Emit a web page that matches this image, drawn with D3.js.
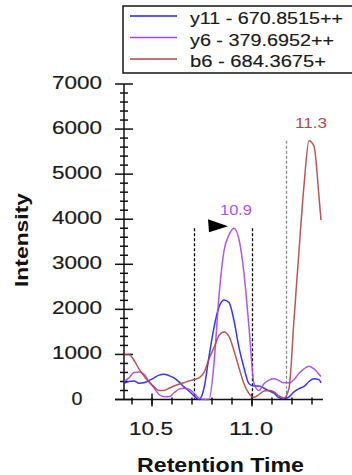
<!DOCTYPE html>
<html>
<head>
<meta charset="utf-8">
<script src="https://cdn.jsdelivr.net/npm/d3@7"></script>
<style>
  body { margin: 0; background: #fff; }
  svg { display: block; font-family: "Liberation Sans", Arial, sans-serif; }
</style>
</head>
<body>
<svg id="chart" width="352" height="475"></svg>
<script>
// retention times (min) of the sampled points
var times = [10.36, 10.385, 10.41, 10.435, 10.46, 10.485, 10.51, 10.535, 10.56, 10.585,
             10.61, 10.635, 10.66, 10.685, 10.71, 10.735, 10.76, 10.785, 10.81, 10.835,
             10.86, 10.885, 10.91, 10.935, 10.96, 10.985, 11.01, 11.035, 11.06, 11.085,
             11.11, 11.135, 11.16, 11.185, 11.21, 11.235, 11.26, 11.285, 11.31, 11.335, 11.345];

var y11 = [360, 400, 410, 360, 370, 420, 480, 540, 560, 530, 480, 390, 280, 190, 80, 0, 250,
           950, 1600, 2050, 2210, 2150, 1750, 1150, 700, 350, 300, 300, 250, 190, 140, 40, 20,
           60, 170, 240, 290, 400, 460, 440, 370];
var y6  = [400, 480, 600, 610, 560, 400, 260, 110, 60, 60, 150, 230, 250, 230, 140, 30, 0,
           0, 800, 2300, 3300, 3650, 3800, 3550, 2800, 1600, 350, 200, 350, 430, 460, 420, 370,
           370, 440, 580, 680, 740, 680, 560, 510];
var b6  = [990, 1000, 870, 680, 520, 390, 280, 200, 200, 250, 300, 340, 370, 410, 440, 480, 600,
           900, 1150, 1420, 1500, 1400, 1080, 700, 350, 130, 50, 110, 190, 200, 170, 80, 30,
           250, 1770, 3300, 4750, 5740, 5620, 4500, 3980];

var seriesNames  = ["y11 - 670.8515++", "y6 - 379.6952++", "b6 - 684.3675+"];
var seriesColors = ["#1f1fff", "#a346f0", "#b24444"];

var yTickValues = [0, 1000, 2000, 3000, 4000, 5000, 6000, 7000];
var xTickValues = [10.5, 11.0];
var xTickLabels = ["10.5", "11.0"];

// integration boundaries and peak apex labels
var boundaries = [10.71, 11.0];
var otherBoundary = 11.17;
var peakLabels = [
  { text: "10.9", series: 1 },
  { text: "11.3", series: 2 }
];

var svg = d3.select("#chart");

var x = d3.scaleLinear().domain([10.36, 11.375]).range([124, 327]);
var y = d3.scaleLinear().domain([0, 7000]).range([399.5, 84]);

var allSeries = [y11, y6, b6];

// ---- axes ----
var axis = svg.append("g").attr("stroke", "#111").attr("stroke-width", 1.5);

axis.append("line")
    .attr("x1", x(10.36)).attr("x2", x(10.36))
    .attr("y1", y(7000)).attr("y2", y(0));
axis.append("line")
    .attr("x1", 115).attr("x2", 323)
    .attr("y1", y(0)).attr("y2", y(0));

// y minor ticks every 200
axis.selectAll("line.yminor")
    .data(d3.range(0, 7001, 200))
  .enter().append("line")
    .attr("class", "yminor")
    .attr("x1", function(d) { return x(10.36) - (d % 1000 === 0 ? 9 : 4); })
    .attr("x2", function(d) { return x(10.36) + (d % 1000 === 0 ? 9 : 4); })
    .attr("y1", function(d) { return y(d); })
    .attr("y2", function(d) { return y(d); });

// x minor ticks every 0.1
axis.selectAll("line.xminor")
    .data(d3.range(10.4, 11.35, 0.1))
  .enter().append("line")
    .attr("class", "xminor")
    .attr("x1", function(d) { return x(d); })
    .attr("x2", function(d) { return x(d); })
    .attr("y1", function(d) { return y(0) - 2; })
    .attr("y2", function(d) { return y(0) + 5; });

axis.selectAll("line.xmajor")
    .data(xTickValues)
  .enter().append("line")
    .attr("class", "xmajor")
    .attr("x1", function(d) { return x(d); })
    .attr("x2", function(d) { return x(d); })
    .attr("y1", y(0) - 6)
    .attr("y2", y(0) + 7);

svg.selectAll("text.ylab")
    .data(yTickValues)
  .enter().append("text")
    .attr("class", "ylab")
    .attr("x", 77)
    .attr("y", function(d) { return y(d) + 5; })
    .attr("text-anchor", "middle")
    .attr("font-size", 18.5)
    .attr("fill", "#1a1a1a")
    .attr("stroke", "#1a1a1a").attr("stroke-width", 0.2)
    .attr("textLength", function(d) { return String(d).length === 1 ? 11 : 50; })
    .attr("lengthAdjust", "spacingAndGlyphs")
    .text(function(d) { return d; });

svg.selectAll("text.xlab")
    .data(xTickValues)
  .enter().append("text")
    .attr("class", "xlab")
    .attr("x", function(d) { return x(d) - 1; })
    .attr("y", 435)
    .attr("text-anchor", "middle")
    .attr("font-size", 18.5)
    .attr("fill", "#1a1a1a")
    .attr("stroke", "#1a1a1a").attr("stroke-width", 0.2)
    .attr("textLength", 44)
    .attr("lengthAdjust", "spacingAndGlyphs")
    .text(function(d, i) { return xTickLabels[i]; });

svg.append("text")
    .attr("x", 220.5).attr("y", 472)
    .attr("text-anchor", "middle")
    .attr("font-size", 19.5).attr("font-weight", "bold")
    .attr("fill", "#111")
    .attr("textLength", 167).attr("lengthAdjust", "spacingAndGlyphs")
    .text("Retention Time");

svg.append("text")
    .attr("transform", "translate(28,240) rotate(-90)")
    .attr("text-anchor", "middle")
    .attr("font-size", 18).attr("font-weight", "bold")
    .attr("fill", "#111")
    .attr("textLength", 94).attr("lengthAdjust", "spacingAndGlyphs")
    .text("Intensity");

// ---- boundaries ----
var apex = d3.max(y6);
svg.selectAll("line.bound")
    .data(boundaries)
  .enter().append("line")
    .attr("class", "bound")
    .attr("x1", function(d) { return Math.round(x(d)) + 0.5; })
    .attr("x2", function(d) { return Math.round(x(d)) + 0.5; })
    .attr("y1", y(apex))
    .attr("y2", y(0))
    .attr("stroke", "#000")
    .attr("stroke-width", 1.3)
    .attr("stroke-dasharray", "3,2");

svg.append("line")
    .attr("x1", Math.round(x(otherBoundary)) + 0.5).attr("x2", Math.round(x(otherBoundary)) + 0.5)
    .attr("y1", y(d3.max(b6))).attr("y2", y(0))
    .attr("stroke", "#888")
    .attr("stroke-width", 1.3)
    .attr("stroke-dasharray", "3,2");

// ---- chromatogram lines ----
var line = d3.line()
    .x(function(d, i) { return x(times[i]); })
    .y(function(d) { return y(d); })
    .curve(d3.curveMonotoneX);

svg.selectAll("path.trace")
    .data(allSeries)
  .enter().append("path")
    .attr("class", "trace")
    .attr("d", line)
    .attr("fill", "none")
    .attr("stroke", function(d, i) { return seriesColors[i]; })
    .attr("stroke-width", 1.5)
    .attr("stroke-opacity", 0.9);

// apex marker (selected peak)
var iApex = y6.indexOf(apex);
var tipX = x(times[iApex]) - 6, tipY = y(apex) - 2;
svg.append("path")
    .attr("d", "M" + (tipX - 20) + "," + (tipY - 7) + "L" + tipX + "," + tipY +
               "L" + (tipX - 19) + "," + (tipY + 6) + "Z")
    .attr("fill", "#000");

// peak labels
svg.selectAll("text.peak")
    .data(peakLabels)
  .enter().append("text")
    .attr("class", "peak")
    .attr("x", function(d) {
      var s = allSeries[d.series];
      return x(times[s.indexOf(d3.max(s))]) + 2;
    })
    .attr("y", function(d) { return y(d3.max(allSeries[d.series])) - 13; })
    .attr("text-anchor", "middle")
    .attr("font-size", 14)
    .attr("fill", function(d) { return d.series === 1 ? "#a855f7" : "#b44c4c"; })
    .attr("textLength", 32).attr("lengthAdjust", "spacingAndGlyphs")
    .text(function(d) { return d.text; });

// ---- legend ----
var legend = svg.append("g");
legend.append("rect")
    .attr("x", 123).attr("y", 6)
    .attr("width", 250).attr("height", 67)
    .attr("fill", "#fff")
    .attr("stroke", "#222").attr("stroke-width", 1.6);

var legendLens = [153, 144, 136];
var rows = legend.selectAll("g.row")
    .data(seriesNames)
  .enter().append("g")
    .attr("class", "row")
    .attr("transform", function(d, i) { return "translate(0," + (i * 21.5) + ")"; });

rows.append("line")
    .attr("x1", 130).attr("x2", 177)
    .attr("y1", 16).attr("y2", 16)
    .attr("stroke", function(d, i) { return seriesColors[i]; })
    .attr("stroke-width", 1.6);

rows.append("text")
    .attr("x", 190).attr("y", 24)
    .attr("font-size", 16)
    .attr("fill", "#1a1a1a")
    .attr("stroke", "#1a1a1a").attr("stroke-width", 0.15)
    .attr("textLength", function(d, i) { return legendLens[i]; })
    .attr("lengthAdjust", "spacingAndGlyphs")
    .text(function(d) { return d; });
</script>
</body>
</html>
